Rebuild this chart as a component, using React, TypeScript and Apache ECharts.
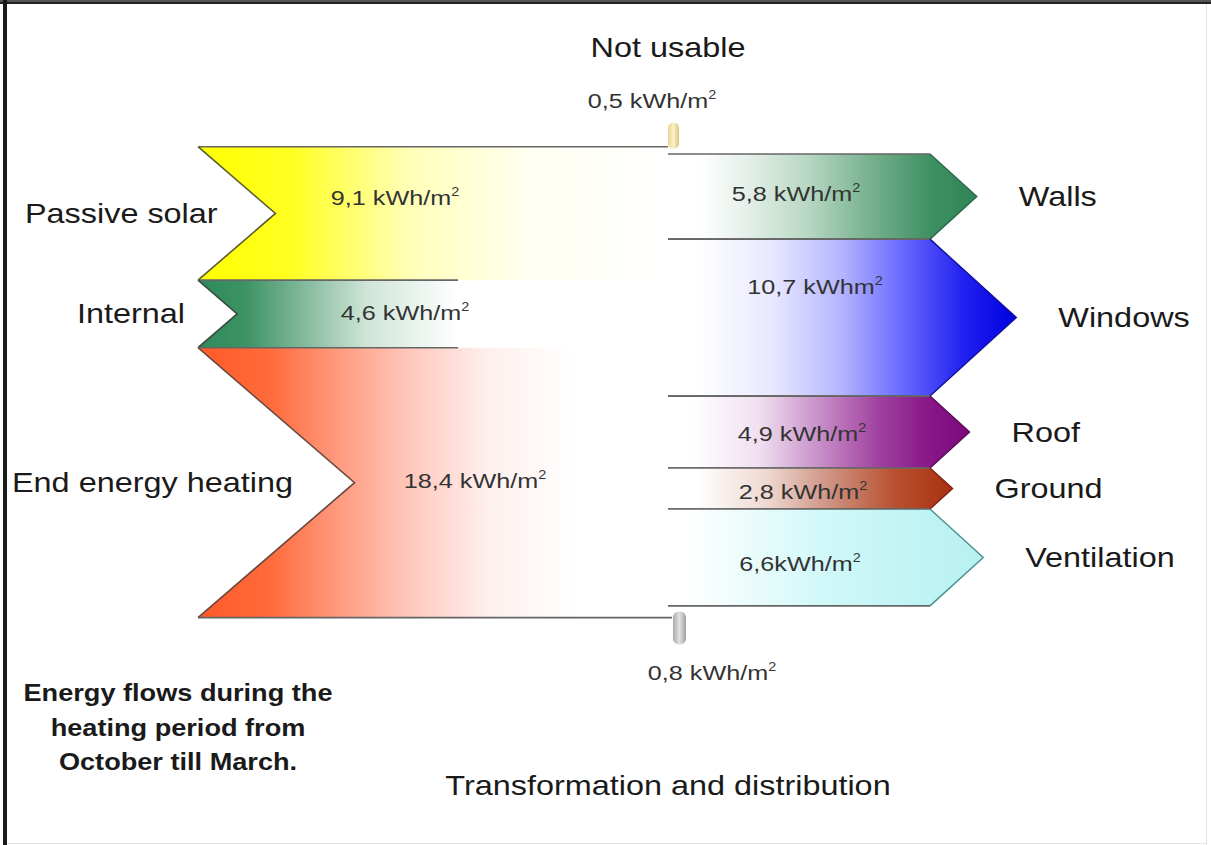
import React, { useEffect, useRef } from "react";
import * as echarts from "echarts";

// ---------------- data ----------------
const sources = ["Passive solar", "Internal", "End energy heating"];
const sourceValues = [9.1, 4.6, 18.4];
const sourceValueTexts = ["9,1 kWh/m", "4,6 kWh/m", "18,4 kWh/m"];

const sinks = ["Walls", "Windows", "Roof", "Ground", "Ventilation"];
const sinkValues = [5.8, 10.7, 4.9, 2.8, 6.6];
const sinkValueTexts = ["5,8 kWh/m", "10,7 kWhm", "4,9 kWh/m", "2,8 kWh/m", "6,6kWh/m"];

const lossNames = ["Not usable", ""];
const lossValues = [0.5, 0.8];
const lossValueTexts = ["0,5 kWh/m", "0,8 kWh/m"];

const footnoteLines = ["Energy flows during the", "heating period from", "October till March."];
const centerTitle = "Transformation and distribution";

// ---------------- layout / style ----------------
const X_LEFT = 198;
const X_MID = 668;
const X_INNER = 458;
const X_ARROW = 930;
const NOTCH = 0.58;
const TIP = 0.55;
const FONT = "'Liberation Sans', Arial, Helvetica, sans-serif";
const SX = 1.2;

const srcLabelX = [25, 77, 12];
const srcValueX = [395, 405, 475];
const srcValueDy = [-16, -1, -2];
const sinkValueX = [796, 815, 802, 803, 800];
const sinkValueDy = [-3, -31, 2, 3, 6];

const srcStops: [number, string][][] = [
  [[0, "#ffff00"], [0.2, "#ffff22"], [0.45, "#ffffb8"], [0.7, "#fffff2"], [1, "#ffffff"]],
  [[0, "#2f8a5a"], [0.18, "#3c9263"], [0.4, "#80b89a"], [0.65, "#cfe5d8"], [1, "#ffffff"]],
  [[0, "#ff5a28"], [0.15, "#ff6a3a"], [0.3, "#ff9a80"], [0.45, "#ffc8bc"], [0.62, "#fff0ee"], [0.8, "#ffffff"]],
];
const srcEdge = ["#5c5c30", "#3a4a40", "#6a4a40"];

const sinkStops: [number, string][][] = [
  [[0, "#ffffff"], [0.1, "#ffffff"], [0.25, "#e6f0ea"], [0.45, "#b8d8c4"], [0.65, "#78b290"], [0.85, "#3e9062"], [1, "#2e8555"]],
  [[0, "#ffffff"], [0.08, "#ffffff"], [0.3, "#e8e8ff"], [0.5, "#b4b4ff"], [0.68, "#6666ff"], [0.85, "#2020f0"], [1, "#0000e0"]],
  [[0, "#ffffff"], [0.08, "#ffffff"], [0.3, "#f0e0f0"], [0.5, "#c890c8"], [0.7, "#a040a0"], [0.85, "#8a1a8a"], [1, "#7a0a7a"]],
  [[0, "#ffffff"], [0.1, "#ffffff"], [0.35, "#eed8d0"], [0.55, "#d09888"], [0.8, "#b85030"], [1, "#a83010"]],
  [[0, "#ffffff"], [0.05, "#ffffff"], [0.25, "#ecfcfc"], [0.5, "#d0f8f8"], [0.8, "#c0f4f4"], [1, "#b8f0f0"]],
];
const sinkEdge = ["#2a6a48", "#1010a0", "#5a0a5a", "#802010", "#4a9090"];

const lineColor = "#666666";

function grad(stops: [number, string][]) {
  return new echarts.graphic.LinearGradient(
    0, 0, 1, 0,
    stops.map(([offset, color]) => ({ offset, color }))
  );
}

function valueText(x: number, y: number, t: string, fill = "#333") {
  return {
    type: "text",
    x,
    y,
    scaleX: SX,
    silent: true,
    style: {
      text: `{a|${t}}{s|2}`,
      align: "center",
      verticalAlign: "middle",
      textAlign: "center",
      textVerticalAlign: "middle",
      rich: {
        a: { fontSize: 21, fontFamily: FONT, fill, lineHeight: 24 },
        s: { fontSize: 12, fontFamily: FONT, fill, verticalAlign: "top", lineHeight: 24 },
      },
    },
  };
}

function plainText(
  x: number,
  y: number,
  t: string,
  align: string,
  size = 27,
  weight = "normal",
  fill = "#1a1a1a",
  sx = SX
) {
  return {
    type: "text",
    x,
    y,
    scaleX: sx,
    silent: true,
    style: {
      text: t,
      fill,
      font: `${weight} ${size}px ${FONT}`,
      align,
      verticalAlign: "middle",
      textAlign: align,
      textVerticalAlign: "middle",
    },
  };
}

export default function App() {
  const ref = useRef<HTMLDivElement>(null);

  useEffect(() => {
    if (!ref.current) return;
    const chart = echarts.init(ref.current, undefined, { renderer: "svg" });

    // stacking positions (value units from the top of the flow)
    const srcStart: number[] = [];
    sourceValues.reduce((acc, v) => {
      srcStart.push(acc);
      return acc + v;
    }, 0);
    const totalIn = sourceValues.reduce((a, b) => a + b, 0);

    const sinkStart: number[] = [];
    sinkValues.reduce((acc, v) => {
      sinkStart.push(acc);
      return acc + v;
    }, lossValues[0]);

    const srcData = sourceValues.map((v, i) => [srcStart[i], v, i]);
    const sinkData = sinkValues.map((v, i) => [sinkStart[i], v, i]);
    const lossData = [
      [0, lossValues[0], 0],
      [totalIn, lossValues[1], 1],
    ];

    const nSrc = sourceValues.length;

    const option: any = {
      animation: false,
      backgroundColor: "#ffffff",
      grid: { left: 0, right: 0, top: 0, bottom: 0 },
      xAxis: { type: "value", min: 0, max: 1211, show: false },
      yAxis: { type: "value", min: -10, max: 47.6, inverse: true, show: false },
      graphic: [
        { type: "rect", shape: { x: 0, y: 0, width: 1211, height: 2 }, style: { fill: "#555" }, silent: true },
        { type: "rect", shape: { x: 0, y: 2, width: 1211, height: 2 }, style: { fill: "#222" }, silent: true },
        { type: "rect", shape: { x: 3, y: 0, width: 4, height: 845 }, style: { fill: "#1a1a1a" }, silent: true },
        { type: "rect", shape: { x: 1206, y: 4, width: 1, height: 841 }, style: { fill: "#e4e4e4" }, silent: true },
        { type: "rect", shape: { x: 7, y: 843, width: 1200, height: 1 }, style: { fill: "#e4e4e4" }, silent: true },
        plainText(668, 785, centerTitle, "center", 27),
        ...footnoteLines.map((t, i) => plainText(178, 693 + i * 34.5, t, "center", 23, "bold", "#1a1a1a", 1.18)),
      ],
      series: [
        {
          type: "custom",
          name: "sources",
          clip: false,
          data: srcData,
          renderItem: (params: any, api: any) => {
            const s = api.value(0);
            const v = api.value(1);
            const i = api.value(2);
            const [xl, yt] = api.coord([X_LEFT, s]);
            const [, yb] = api.coord([X_LEFT, s + v]);
            const xMid = api.coord([X_MID, 0])[0];
            const xInner = api.coord([X_INNER, 0])[0];
            const h = yb - yt;
            const xn = xl + h * NOTCH;
            const ym = (yt + yb) / 2;
            const xFill = i === 0 || i === nSrc - 1 ? xMid : xInner;
            const xTop = i === 0 ? xMid : xInner;
            const xBot = i === nSrc - 1 ? xMid + 4 : xInner;
            return {
              type: "group",
              children: [
                {
                  type: "polygon",
                  shape: { points: [[xl, yt], [xFill, yt], [xFill, yb], [xl, yb], [xn, ym]] },
                  style: { fill: grad(srcStops[i]) },
                },
                {
                  type: "polyline",
                  shape: { points: [[xTop, yt], [xl, yt]] },
                  style: { stroke: lineColor, lineWidth: 1.6, fill: "none" },
                },
                {
                  type: "polyline",
                  shape: { points: [[xl, yb], [xBot, yb]] },
                  style: { stroke: lineColor, lineWidth: 1.6, fill: "none" },
                },
                {
                  type: "polyline",
                  shape: { points: [[xl, yt], [xn, ym], [xl, yb]] },
                  style: { stroke: srcEdge[i], lineWidth: 1.6, fill: "none" },
                },
                plainText(srcLabelX[i], ym, sources[i], "left"),
                valueText(srcValueX[i], ym + srcValueDy[i], sourceValueTexts[i]),
              ],
            };
          },
        },
        {
          type: "custom",
          name: "sinks",
          clip: false,
          data: sinkData,
          renderItem: (params: any, api: any) => {
            const s = api.value(0);
            const v = api.value(1);
            const i = api.value(2);
            const [xm, yt] = api.coord([X_MID, s]);
            const [, yb] = api.coord([X_MID, s + v]);
            const xa = api.coord([X_ARROW, 0])[0];
            const h = yb - yt;
            const xt = xa + h * TIP;
            const ym = (yt + yb) / 2;
            return {
              type: "group",
              children: [
                {
                  type: "polygon",
                  shape: { points: [[xm, yt], [xa, yt], [xt, ym], [xa, yb], [xm, yb]] },
                  style: { fill: grad(sinkStops[i]) },
                },
                {
                  type: "polyline",
                  shape: { points: [[xm, yt], [xa, yt]] },
                  style: { stroke: lineColor, lineWidth: 1.6, fill: "none" },
                },
                {
                  type: "polyline",
                  shape: { points: [[xa, yb], [xm, yb]] },
                  style: { stroke: lineColor, lineWidth: 1.6, fill: "none" },
                },
                {
                  type: "polyline",
                  shape: { points: [[xa, yt], [xt, ym], [xa, yb]] },
                  style: { stroke: sinkEdge[i], lineWidth: 1.4, fill: "none" },
                },
                plainText(xt + 42, ym, sinks[i], "left"),
                valueText(sinkValueX[i], ym + sinkValueDy[i], sinkValueTexts[i]),
              ],
            };
          },
        },
        {
          type: "custom",
          name: "losses",
          clip: false,
          data: lossData,
          renderItem: (params: any, api: any) => {
            const s = api.value(0);
            const i = api.value(2);
            const [x0, y0] = api.coord([X_MID, s]);
            if (i === 0) {
              return {
                type: "group",
                children: [
                  {
                    type: "rect",
                    shape: { x: x0, y: y0 - 24, width: 11, height: 26, r: 5 },
                    style: {
                      fill: new echarts.graphic.LinearGradient(0, 0, 1, 0, [
                        { offset: 0, color: "#e8d490" },
                        { offset: 0.5, color: "#fbf2cc" },
                        { offset: 1, color: "#dcc47c" },
                      ]),
                    },
                  },
                  plainText(x0, y0 - 99, lossNames[0], "center"),
                  valueText(x0 - 16, y0 - 46, lossValueTexts[0]),
                ],
              };
            }
            return {
              type: "group",
              children: [
                {
                  type: "rect",
                  shape: { x: x0 + 5, y: y0 - 6, width: 13, height: 33, r: 6 },
                  style: {
                    fill: new echarts.graphic.LinearGradient(0, 0, 1, 0, [
                      { offset: 0, color: "#a8a8a8" },
                      { offset: 0.5, color: "#e2e2e2" },
                      { offset: 1, color: "#a0a0a0" },
                    ]),
                  },
                },
                valueText(x0 + 44, y0 + 55, lossValueTexts[1]),
              ],
            };
          },
        },
      ],
    };

    chart.setOption(option);
    return () => chart.dispose();
  }, []);

  return (
    <div
      ref={ref}
      style={{ position: "fixed", left: 0, top: 0, width: 1211, height: 845, background: "#ffffff" }}
    />
  );
}
